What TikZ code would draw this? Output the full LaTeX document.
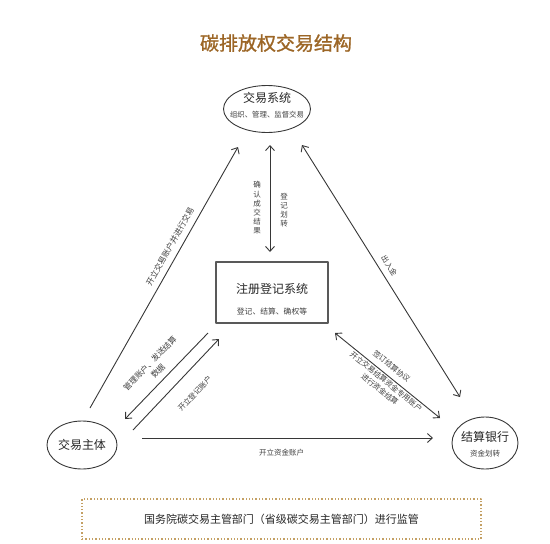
\documentclass[tikz,border=0pt]{standalone}
\usepackage{fontspec}
\setmainfont{Noto Sans CJK SC}
\newfontfamily\titlefont[FakeBold=1.2]{Noto Sans CJK SC}
\usepackage{tikz}
\usetikzlibrary{shapes.geometric,arrows.meta}
\definecolor{titlebrown}{RGB}{156,102,38}
\definecolor{linegray}{RGB}{55,55,55}
\definecolor{dotgold}{RGB}{196,160,100}

\begin{document}
\begin{tikzpicture}[x=1pt,y=-1pt,line join=round,
 ell/.style={draw=linegray,ellipse,line width=0.9pt,inner sep=0pt},
 big/.style={font=\fontsize{12}{12}\selectfont,text=black!85},
 small/.style={font=\fontsize{7.4}{8}\selectfont,text=black!75},
 lab/.style={font=\fontsize{7.5}{10}\selectfont,text=black!75,inner sep=2pt},
 arr/.style={draw=linegray,line width=0.9pt,-{Straight Barb[length=5pt,width=9pt]}},
 arrb/.style={draw=linegray,line width=0.9pt,{Straight Barb[length=5pt,width=9pt]}-},
 arrd/.style={draw=linegray,line width=0.9pt,{Straight Barb[length=5pt,width=9pt]}-{Straight Barb[length=5pt,width=9pt]}}]
\useasboundingbox(0,0)rectangle(550,544);
\node[font=\titlefont\fontsize{19}{19}\selectfont,text=titlebrown](title)at(276,43){碳排放权交易结构};
% systems and parties
\node[ell,minimum width=87,minimum height=47](sys)at(267,109){};
\node[big]at([yshift=11.5pt]sys.center){交易系统};\node[small]at([yshift=-5.5pt]sys.center){组织、管理、监督交易};
\node[draw=black!65,line width=1.2pt,minimum width=112,minimum height=61,inner sep=0pt](reg)at(272,292.5){};
\node[big]at([yshift=3.5pt]reg.center){注册登记系统};\node[small,font=\fontsize{7.8}{8}\selectfont]at([yshift=-19.5pt]reg.center){登记、结算、确权等};
\node[ell,big,minimum width=70,minimum height=48](trader)at(82,445){交易主体};
\node[ell,minimum width=66,minimum height=52](bank)at(485,443){};
\node[big]at([yshift=6pt]bank.center){结算银行};\node[small,font=\fontsize{7.5}{8}\selectfont]at([yshift=-11pt]bank.center){资金划转};
\node[draw=dotgold,dotted,line width=1.3pt,minimum width=399,minimum height=40,font=\fontsize{11}{11}\selectfont,text=black!85](note)at(281.5,519){国务院碳交易主管部门（省级碳交易主管部门）进行监管};
% arrow ends
\coordinate(t1)at(90,408);\coordinate(s1)at(238,147);\coordinate(s2)at(270,145);\coordinate(r2)at(270,252);
\coordinate(s3)at(302,145);\coordinate(b3)at(460,397);\coordinate(r4)at(208,333);\coordinate(t4)at(125,419);
\coordinate(t5)at(133,430);\coordinate(r5)at(219,339);\coordinate(r6)at(335,333);\coordinate(b6)at(440,418);
\coordinate(t7)at(142,438);\coordinate(b7)at(433,438);
\draw[arr](t1)--node[lab,font=\fontsize{8}{10}\selectfont,sloped,pos=0.6,above=4pt]{开立交易账户并进行交易}(s1);
\draw[arrd](s2)--(r2);
\node[lab,align=center,font=\fontsize{7.5}{9.2}\selectfont]at(257,208){确\\认\\成\\交\\结\\果};
\node[lab,align=center,font=\fontsize{7.5}{9.2}\selectfont]at(284,210){登\\记\\划\\转};
\draw[arrd](s3)--node[lab,sloped,above=4pt]{出入金}(b3);
\draw[arrb](t4)--node[lab,font=\fontsize{8}{11}\selectfont,sloped,pos=0.48,above=2pt,align=center,inner sep=3.5pt]{管理账户、发送结算\\数据}(r4);
\draw[arr](t5)--node[lab,sloped,pos=0.55,below=14pt]{开立登记账户}(r5);
\draw[arrd](r6)--node[lab,sloped,pos=0.48,above=4pt]{签订结算协议}node[lab,sloped,pos=0.52,below=1pt,inner sep=0.5pt,align=center]{开立交易结算资金专用账户\\进行资金结算}(b6);
\draw[arr](t7)--node[lab,pos=0.48,below=9pt]{开立资金账户}(b7);
\end{tikzpicture}
\end{document}
